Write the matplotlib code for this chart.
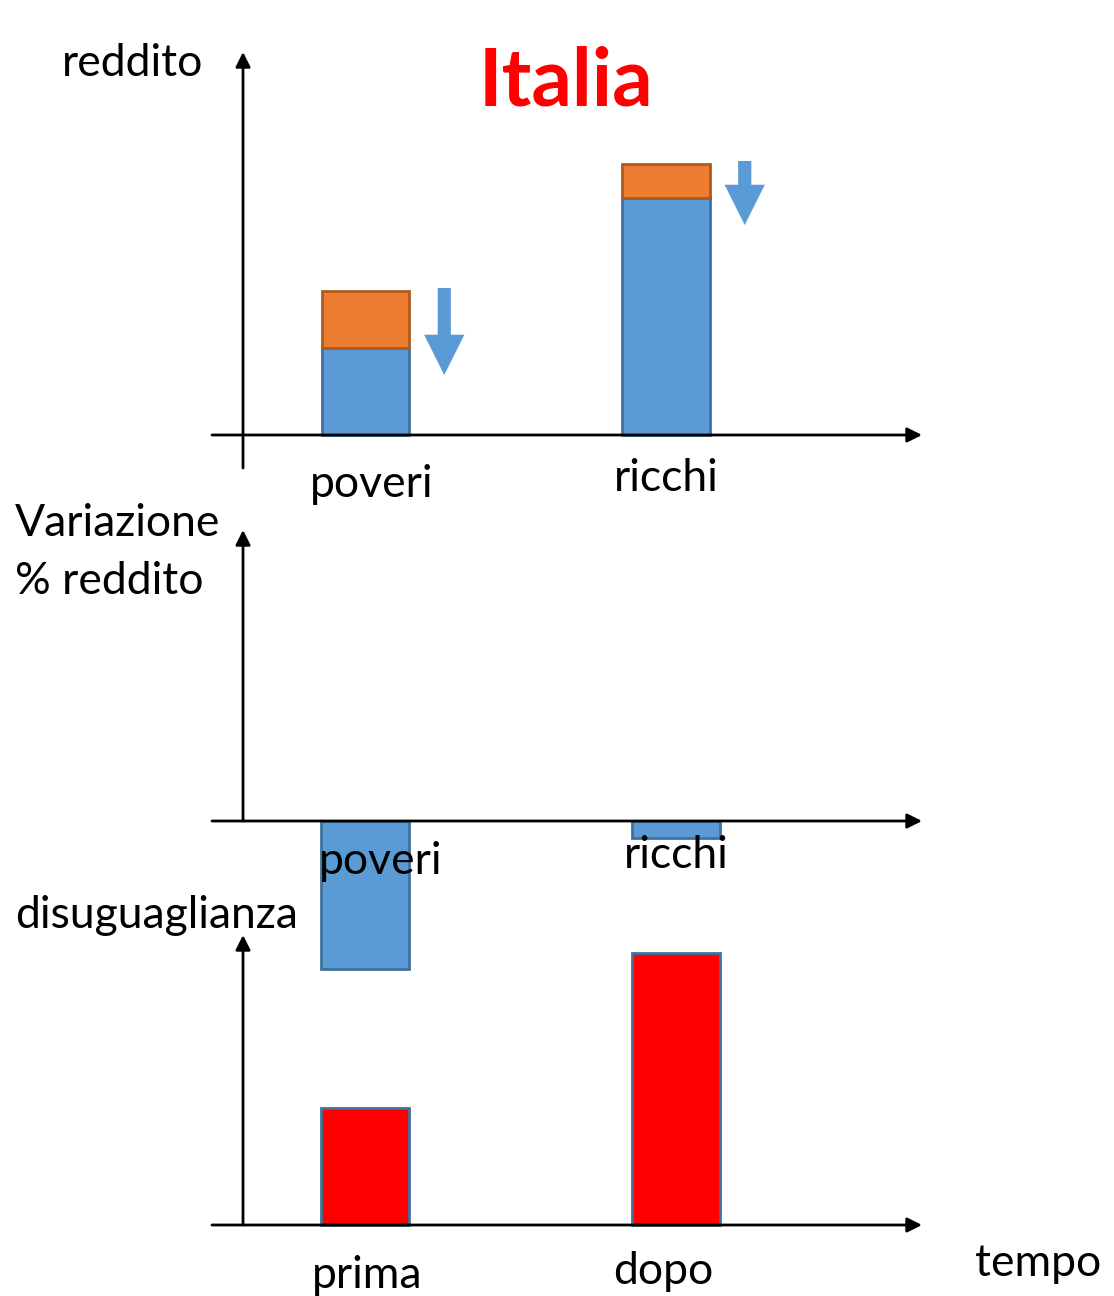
import numpy as np
import matplotlib
matplotlib.use('Agg')
import matplotlib.pyplot as plt

plt.rcParams['font.family'] = ['Lato', 'DejaVu Sans']

# data (arbitrary units)
gruppi = ['poveri', 'ricchi']
reddito_dopo = [8.7, 23.7]       # blue part (income after)
reddito_perso = [5.7, 3.4]       # orange part (income lost)
variazione = [-14.8, -1.7]       # % change of income
periodi = ['prima', 'dopo']
disuguaglianza = [11.7, 27.2]

BLUE = '#5B9BD5'
BLUE_EDGE = '#41719C'
ORANGE = '#ED7D31'
ORANGE_EDGE = '#AE5A21'
RED = '#FF0000'

W, H = 1114, 1296
fig = plt.figure(figsize=(W / 100, H / 100), dpi=100)


def pixel_axes(x0, y0, x1, y1):
    ax = fig.add_axes([x0 / W, 1 - y1 / H, (x1 - x0) / W, (y1 - y0) / H])
    ax.set_axis_off()
    ax.patch.set_alpha(0)
    return ax


def draw_axes_arrows(ax, vbottom, vtop, vx=0.0437):
    arrow = dict(arrowstyle='-|>', color='black', lw=2, mutation_scale=22, shrinkA=0, shrinkB=0)
    tr = ax.get_yaxis_transform()  # x in axes fraction, y in data
    ax.annotate('', xy=(1, 0), xytext=(0, 0), xycoords=tr, textcoords=tr, arrowprops=arrow)
    ax.annotate('', xy=(vx, vtop), xytext=(vx, vbottom), xycoords=tr, textcoords=tr, arrowprops=arrow)


x = np.arange(len(gruppi))
fs = 32

# --- panel 1: reddito ---
ax1 = pixel_axes(212, 52, 922, 468)
ax1.set_xlim(-0.511, 1.852)
ax1.set_ylim(-3.3, 38.3)
draw_axes_arrows(ax1, -3.3, 38.3)
ax1.bar(x, reddito_dopo, width=0.29, color=BLUE, edgecolor=BLUE_EDGE, lw=2, clip_on=False)
ax1.bar(x, reddito_perso, width=0.29, bottom=reddito_dopo, color=ORANGE,
        edgecolor=ORANGE_EDGE, lw=2, clip_on=False)
for xi, lo, hi in zip(x, reddito_dopo, reddito_perso):
    top = lo + hi + 0.3
    ax1.annotate('', xy=(xi + 0.262, lo - 2.7), xytext=(xi + 0.262, top),
                 arrowprops=dict(arrowstyle='simple,head_width=2.9,head_length=2.9,tail_width=0.95',
                                 color=BLUE, lw=0, mutation_scale=10, shrinkA=0, shrinkB=0),
                 annotation_clip=False)
ax1.text(0.02, -4.9, gruppi[0], ha='center', va='center', fontsize=fs)
ax1.text(1.0, -4.3, gruppi[1], ha='center', va='center', fontsize=fs)

# --- panel 2: variazione % reddito ---
ax2 = pixel_axes(212, 530, 922, 969)
ax2.set_xlim(-0.494, 1.792)
ax2.set_ylim(-14.8, 29.1)
draw_axes_arrows(ax2, 0, 29.1)
ax2.bar(x, variazione, width=0.283, color=BLUE, edgecolor=BLUE_EDGE, lw=2, clip_on=False)
ax2.text(0.05, -4.0, gruppi[0], ha='center', va='center', fontsize=fs, zorder=5)
ax2.text(1.0, -3.4, gruppi[1], ha='center', va='center', fontsize=fs, zorder=5)

# --- panel 3: disuguaglianza ---
ax3 = pixel_axes(212, 935, 922, 1235)
ax3.set_xlim(-0.494, 1.792)
ax3.set_ylim(-1.0, 29.0)
draw_axes_arrows(ax3, 0, 29.0)
ax3.bar(x, disuguaglianza, width=0.283, color=RED, edgecolor=BLUE_EDGE, lw=2, clip_on=False)
ax3.text(0.005, -5.1, periodi[0], ha='center', va='center', fontsize=fs)
ax3.text(0.96, -4.6, periodi[1], ha='center', va='center', fontsize=fs)

# --- free text ---
fig.text(62 / W, 1 - 63 / H, 'reddito', ha='left', va='center', fontsize=fs)
fig.text(566 / W, 1 - 82 / H, 'Italia', ha='center', va='center', fontsize=57.5,
         fontweight='bold', color=RED)
fig.text(15 / W, 1 - 524 / H, 'Variazione', ha='left', va='center', fontsize=fs)
fig.text(15 / W, 1 - 582 / H, '% reddito', ha='left', va='center', fontsize=fs)
fig.text(15 / W, 1 - 915 / H, 'disuguaglianza', ha='left', va='center', fontsize=fs)
fig.text(975 / W, 1 - 1264 / H, 'tempo', ha='left', va='center', fontsize=fs)

fig.savefig('out.png', dpi=100)
